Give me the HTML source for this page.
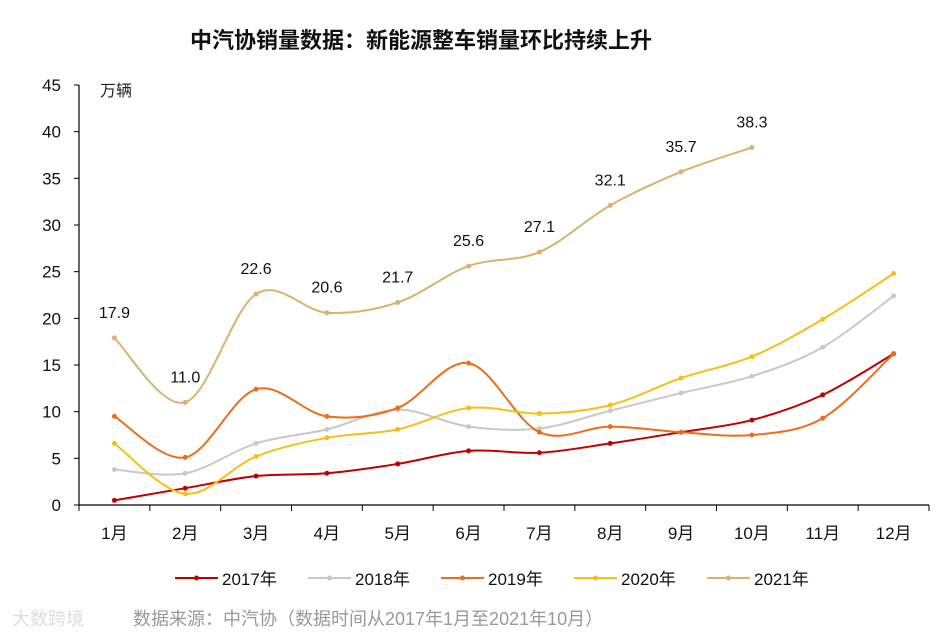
<!DOCTYPE html>
<html><head><meta charset="utf-8">
<style>
body{margin:0;background:#fff;}
svg text{font-family:"Liberation Sans","Noto Sans CJK SC",sans-serif;}
</style></head>
<body>
<svg id="chart" width="951" height="633" xmlns="http://www.w3.org/2000/svg">
<rect width="951" height="633" fill="#fff"/>
<text x="421" y="48" text-anchor="middle" font-size="22" font-weight="bold" fill="#111">中汽协销量数据：新能源整车销量环比持续上升</text>
<text x="100" y="96" font-size="16" fill="#222">万辆</text>
<g id="axes"></g>
<g id="series"></g>
<g id="legend"></g>
<text x="12" y="625" font-size="18" fill="#ddd">大数跨境</text>
<text x="133" y="625" font-size="18" fill="#999">数据来源：中汽协（数据时间从2017年1月至2021年10月）</text>
</svg>
<script>
const categories=["1月","2月","3月","4月","5月","6月","7月","8月","9月","10月","11月","12月"];
const yTicks=[0,5,10,15,20,25,30,35,40,45];
const seriesNames=["2017年","2018年","2019年","2020年","2021年"];
const seriesColors=["#c00000","#c8c8c8","#ec6d1c","#f5c013","#d9b26e"];
const s2017=[0.5,1.8,3.1,3.4,4.4,5.8,5.6,6.6,7.8,9.1,11.8,16.2];
const s2018=[3.8,3.4,6.6,8.1,10.2,8.4,8.2,10.1,12.0,13.8,16.9,22.4];
const s2019=[9.5,5.1,12.4,9.5,10.4,15.2,7.8,8.4,7.8,7.5,9.3,16.2];
const s2020=[6.6,1.2,5.2,7.2,8.1,10.4,9.8,10.7,13.6,15.9,19.9,24.8];
const s2021=[17.9,11.0,22.6,20.6,21.7,25.6,27.1,32.1,35.7,38.3];
const allSeries=[s2017,s2018,s2019,s2020,s2021];

const NS="http://www.w3.org/2000/svg";
const pL=79,pR=929,pT=85,pB=505;
const step=(pR-pL)/categories.length;
const xPos=i=>pL+step*(i+0.5);
const yPos=v=>pB-(v/45)*(pB-pT);
function mk(tag,attrs,parent){const e=document.createElementNS(NS,tag);for(const k in attrs)e.setAttribute(k,attrs[k]);parent.appendChild(e);return e;}
const axes=document.getElementById('axes');
let a=mk('line',{x1:pL,y1:pT,x2:pL,y2:pB,stroke:'#000','stroke-width':1.2},axes);


a=mk('line',{x1:pL,y1:pB,x2:pR,y2:pB,stroke:'#000','stroke-width':1.2},axes);


yTicks.forEach(v=>{
  const y=yPos(v);
  mk('line',{x1:pL-5,y1:y,x2:pL,y2:y,stroke:'#000'},axes);
  const t=mk('text',{x:pL-18,y:y+6,'text-anchor':'end','font-size':17,fill:'#111'},axes);
  t.textContent=v;
  
  
});
for(let i=0;i<=categories.length;i++){
  const x=pL+step*i;
  mk('line',{x1:x,y1:pB,x2:x,y2:pB+6,stroke:'#000'},axes);
}
categories.forEach((c,i)=>{
  const t=mk('text',{x:xPos(i),y:539,'text-anchor':'middle','font-size':17,fill:'#111'},axes);
  t.textContent=c;
  
  
});
function smooth(pts){
  let d=`M${pts[0][0]},${pts[0][1]}`;
  for(let i=0;i<pts.length-1;i++){
    const p0=pts[i-1]||pts[i],p1=pts[i],p2=pts[i+1],p3=pts[i+2]||p2;
    const c1=[p1[0]+(p2[0]-p0[0])/6,p1[1]+(p2[1]-p0[1])/6];
    const c2=[p2[0]-(p3[0]-p1[0])/6,p2[1]-(p3[1]-p1[1])/6];
    d+=` C${c1[0]},${c1[1]} ${c2[0]},${c2[1]} ${p2[0]},${p2[1]}`;
  }
  return d;
}
const sg=document.getElementById('series');
allSeries.forEach((s,k)=>{
  const g=mk('g',{},sg);
  
  
  const pts=s.map((v,i)=>[xPos(i),yPos(v)]);
  const p=mk('path',{d:smooth(pts),fill:'none',stroke:seriesColors[k],'stroke-width':2},g);
  
  
  pts.forEach((q,i)=>{
    const c=mk('circle',{cx:q[0],cy:q[1],r:2.5,fill:seriesColors[k]},g);
    
    
    if(k===4){
      const t=mk('text',{x:q[0],y:q[1]-20,'text-anchor':'middle','font-size':16,fill:'#111'},g);
      t.textContent=s[i].toFixed(1);
      
      
    }
  });
});
const lg=document.getElementById('legend');
const lx=[175,308,441,574,707];
seriesNames.forEach((n,k)=>{
  const g=mk('g',{},lg);
  
  
  mk('line',{x1:lx[k],y1:578,x2:lx[k]+43,y2:578,stroke:seriesColors[k],'stroke-width':2},g);
  mk('circle',{cx:lx[k]+21.5,cy:578,r:2.5,fill:seriesColors[k]},g);
  const t=mk('text',{x:lx[k]+47,y:585,'font-size':17,fill:'#111'},g);
  t.textContent=n;
});
</script>
</body></html>
